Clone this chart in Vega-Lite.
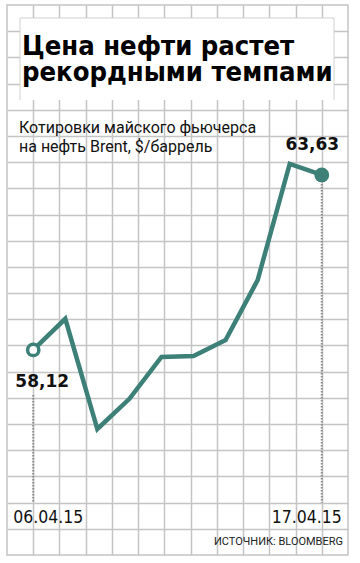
{
  "$schema": "https://vega.github.io/schema/vega-lite/v6.json",
  "width": 341,
  "height": 550,
  "autosize": {"type": "none"},
  "padding": {"left": 7, "top": 5, "right": 12, "bottom": 8},
  "background": "white",
  "config": {
    "view": {"stroke": "#c4c4c4", "strokeWidth": 1.5},
    "axis": {"labels": false, "ticks": false, "domain": false, "titleOpacity": 0, "grid": true, "gridColor": "#c4c4c4", "gridWidth": 1.5, "gridOpacity": 1},
    "locale": {"number": {"decimal": ",", "thousands": " ", "grouping": [3], "currency": ["", ""]}}
  },
  "data": {
    "values": [
      {"i": 0, "date": "06.04.15", "v": 58.12},
      {"i": 1, "date": "07.04.15", "v": 59.10},
      {"i": 2, "date": "08.04.15", "v": 55.63},
      {"i": 3, "date": "09.04.15", "v": 56.58},
      {"i": 4, "date": "10.04.15", "v": 57.90},
      {"i": 5, "date": "13.04.15", "v": 57.93},
      {"i": 6, "date": "14.04.15", "v": 58.43},
      {"i": 7, "date": "15.04.15", "v": 60.32},
      {"i": 8, "date": "16.04.15", "v": 63.98},
      {"i": 9, "date": "17.04.15", "v": 63.63}
    ]
  },
  "layer": [
    {
      "mark": {"type": "line", "color": "#3d8078", "strokeWidth": 4.5, "strokeJoin": "miter"},
      "encoding": {
        "x": {"field": "i", "type": "quantitative", "title": null,
          "scale": {"domain": [-0.81818, 9.81818], "nice": false, "zero": false},
          "axis": {"values": [0, 0.81818, 1.63636, 2.45455, 3.27273, 4.09091, 4.90909, 5.72727, 6.54545, 7.36364, 8.18182, 9]}},
        "y": {"field": "v", "type": "quantitative", "title": null,
          "scale": {"domain": [51.663, 68.98], "nice": false, "zero": false},
          "axis": {"values": [52.488, 53.312, 54.137, 54.962, 55.786, 56.611, 57.435, 58.260, 59.085, 59.909, 60.734, 61.558, 62.383, 63.208, 64.032, 64.857, 65.681, 66.506, 67.331, 68.155]}}
      }
    },
    {
      "transform": [{"filter": "datum.i == 0"}],
      "mark": {"type": "rule", "color": "#8c8c8c", "strokeWidth": 2, "strokeDash": [1.5, 1.5]},
      "encoding": {
        "x": {"field": "i", "type": "quantitative", "title": null, "axis": {"values": [0, 0.81818, 1.63636, 2.45455, 3.27273, 4.09091, 4.90909, 5.72727, 6.54545, 7.36364, 8.18182, 9]}},
        "y": {"datum": 56.70, "type": "quantitative", "title": null, "axis": {"values": [52.488, 53.312, 54.137, 54.962, 55.786, 56.611, 57.435, 58.260, 59.085, 59.909, 60.734, 61.558, 62.383, 63.208, 64.032, 64.857, 65.681, 66.506, 67.331, 68.155]}},
        "y2": {"datum": 53.31}
      }
    },
    {
      "transform": [{"filter": "datum.i == 9"}],
      "mark": {"type": "rule", "color": "#8c8c8c", "strokeWidth": 2, "strokeDash": [1.5, 1.5]},
      "encoding": {
        "x": {"field": "i", "type": "quantitative", "title": null, "axis": {"values": [0, 0.81818, 1.63636, 2.45455, 3.27273, 4.09091, 4.90909, 5.72727, 6.54545, 7.36364, 8.18182, 9]}},
        "y": {"field": "v", "type": "quantitative", "title": null, "axis": {"values": [52.488, 53.312, 54.137, 54.962, 55.786, 56.611, 57.435, 58.260, 59.085, 59.909, 60.734, 61.558, 62.383, 63.208, 64.032, 64.857, 65.681, 66.506, 67.331, 68.155]}},
        "y2": {"datum": 53.31}
      }
    },
    {
      "transform": [{"filter": "datum.i == 0"}],
      "mark": {"type": "circle", "fill": "white", "stroke": "#3d8078", "strokeWidth": 3.5, "size": 127, "opacity": 1},
      "encoding": {
        "x": {"field": "i", "type": "quantitative", "title": null, "axis": {"values": [0, 0.81818, 1.63636, 2.45455, 3.27273, 4.09091, 4.90909, 5.72727, 6.54545, 7.36364, 8.18182, 9]}},
        "y": {"field": "v", "type": "quantitative", "title": null, "axis": {"values": [52.488, 53.312, 54.137, 54.962, 55.786, 56.611, 57.435, 58.260, 59.085, 59.909, 60.734, 61.558, 62.383, 63.208, 64.032, 64.857, 65.681, 66.506, 67.331, 68.155]}}
      }
    },
    {
      "transform": [{"filter": "datum.i == 9"}],
      "mark": {"type": "circle", "color": "#3d8078", "size": 220, "opacity": 1},
      "encoding": {
        "x": {"field": "i", "type": "quantitative", "title": null, "axis": {"values": [0, 0.81818, 1.63636, 2.45455, 3.27273, 4.09091, 4.90909, 5.72727, 6.54545, 7.36364, 8.18182, 9]}},
        "y": {"field": "v", "type": "quantitative", "title": null, "axis": {"values": [52.488, 53.312, 54.137, 54.962, 55.786, 56.611, 57.435, 58.260, 59.085, 59.909, 60.734, 61.558, 62.383, 63.208, 64.032, 64.857, 65.681, 66.506, 67.331, 68.155]}}
      }
    },
    {
      "transform": [{"filter": "datum.i == 0"}],
      "mark": {"type": "text", "font": "DejaVu Sans", "fontWeight": "bold", "fontSize": 17, "color": "#111111", "align": "center", "baseline": "alphabetic", "dx": 9, "dy": 37},
      "encoding": {
        "x": {"field": "i", "type": "quantitative", "title": null, "axis": {"values": [0, 0.81818, 1.63636, 2.45455, 3.27273, 4.09091, 4.90909, 5.72727, 6.54545, 7.36364, 8.18182, 9]}},
        "y": {"field": "v", "type": "quantitative", "title": null, "axis": {"values": [52.488, 53.312, 54.137, 54.962, 55.786, 56.611, 57.435, 58.260, 59.085, 59.909, 60.734, 61.558, 62.383, 63.208, 64.032, 64.857, 65.681, 66.506, 67.331, 68.155]}},
        "text": {"field": "v", "type": "quantitative", "format": ".2f"}
      }
    },
    {
      "transform": [{"filter": "datum.i == 9"}],
      "mark": {"type": "text", "font": "DejaVu Sans", "fontWeight": "bold", "fontSize": 17, "color": "#111111", "align": "center", "baseline": "alphabetic", "dx": -9.5, "dy": -25},
      "encoding": {
        "x": {"field": "i", "type": "quantitative", "title": null, "axis": {"values": [0, 0.81818, 1.63636, 2.45455, 3.27273, 4.09091, 4.90909, 5.72727, 6.54545, 7.36364, 8.18182, 9]}},
        "y": {"field": "v", "type": "quantitative", "title": null, "axis": {"values": [52.488, 53.312, 54.137, 54.962, 55.786, 56.611, 57.435, 58.260, 59.085, 59.909, 60.734, 61.558, 62.383, 63.208, 64.032, 64.857, 65.681, 66.506, 67.331, 68.155]}},
        "text": {"field": "v", "type": "quantitative", "format": ".2f"}
      }
    },
    {
      "transform": [{"filter": "datum.i == 0"}],
      "mark": {"type": "text", "font": "DejaVu Sans Condensed, Roboto", "fontSize": 17.5, "color": "#111111", "align": "left", "baseline": "alphabetic", "dx": -20},
      "encoding": {
        "x": {"field": "i", "type": "quantitative", "title": null, "axis": {"values": [0, 0.81818, 1.63636, 2.45455, 3.27273, 4.09091, 4.90909, 5.72727, 6.54545, 7.36364, 8.18182, 9]}},
        "y": {"datum": 52.67, "type": "quantitative", "title": null, "axis": {"values": [52.488, 53.312, 54.137, 54.962, 55.786, 56.611, 57.435, 58.260, 59.085, 59.909, 60.734, 61.558, 62.383, 63.208, 64.032, 64.857, 65.681, 66.506, 67.331, 68.155]}},
        "text": {"field": "date", "type": "nominal"}
      }
    },
    {
      "transform": [{"filter": "datum.i == 9"}],
      "mark": {"type": "text", "font": "DejaVu Sans Condensed, Roboto", "fontSize": 17.5, "color": "#111111", "align": "right", "baseline": "alphabetic", "dx": 20},
      "encoding": {
        "x": {"field": "i", "type": "quantitative", "title": null, "axis": {"values": [0, 0.81818, 1.63636, 2.45455, 3.27273, 4.09091, 4.90909, 5.72727, 6.54545, 7.36364, 8.18182, 9]}},
        "y": {"datum": 52.67, "type": "quantitative", "title": null, "axis": {"values": [52.488, 53.312, 54.137, 54.962, 55.786, 56.611, 57.435, 58.260, 59.085, 59.909, 60.734, 61.558, 62.383, 63.208, 64.032, 64.857, 65.681, 66.506, 67.331, 68.155]}},
        "text": {"field": "date", "type": "nominal"}
      }
    },
    {
      "data": {"values": [{}]},
      "mark": {"type": "rect", "fill": "white", "stroke": "#d0d0d0", "strokeWidth": 1, "strokeDash": [396, 314, 82, 0]},
      "encoding": {
        "x": {"datum": -0.4127, "type": "quantitative", "title": null, "axis": {"values": [0, 0.81818, 1.63636, 2.45455, 3.27273, 4.09091, 4.90909, 5.72727, 6.54545, 7.36364, 8.18182, 9]}},
        "x2": {"datum": 9.3815},
        "y": {"datum": 68.571, "type": "quantitative", "title": null, "axis": {"values": [52.488, 53.312, 54.137, 54.962, 55.786, 56.611, 57.435, 58.260, 59.085, 59.909, 60.734, 61.558, 62.383, 63.208, 64.032, 64.857, 65.681, 66.506, 67.331, 68.155]}},
        "y2": {"datum": 65.989}
      }
    },
    {
      "data": {"values": [{}]},
      "mark": {"type": "text", "text": ["Цена нефти растет", "рекордными темпами"], "font": "DejaVu Sans Condensed, DejaVu Sans", "fontWeight": "bold", "fontSize": 27.2, "lineHeight": 26, "color": "#000000", "align": "left", "baseline": "alphabetic"},
      "encoding": {
        "x": {"datum": -0.3503, "type": "quantitative", "title": null, "axis": {"values": [0, 0.81818, 1.63636, 2.45455, 3.27273, 4.09091, 4.90909, 5.72727, 6.54545, 7.36364, 8.18182, 9]}},
        "y": {"datum": 67.406, "type": "quantitative", "title": null, "axis": {"values": [52.488, 53.312, 54.137, 54.962, 55.786, 56.611, 57.435, 58.260, 59.085, 59.909, 60.734, 61.558, 62.383, 63.208, 64.032, 64.857, 65.681, 66.506, 67.331, 68.155]}}
      }
    },
    {
      "data": {"values": [{}]},
      "mark": {"type": "text", "text": ["Котировки майского фьючерса", "на нефть Brent, $/баррель"], "font": "Roboto", "fontSize": 16, "lineHeight": 19, "color": "#111111", "align": "left", "baseline": "alphabetic"},
      "encoding": {
        "x": {"datum": -0.4439, "type": "quantitative", "title": null, "axis": {"values": [0, 0.81818, 1.63636, 2.45455, 3.27273, 4.09091, 4.90909, 5.72727, 6.54545, 7.36364, 8.18182, 9]}},
        "y": {"datum": 64.95, "type": "quantitative", "title": null, "axis": {"values": [52.488, 53.312, 54.137, 54.962, 55.786, 56.611, 57.435, 58.260, 59.085, 59.909, 60.734, 61.558, 62.383, 63.208, 64.032, 64.857, 65.681, 66.506, 67.331, 68.155]}}
      }
    },
    {
      "data": {"values": [{}]},
      "mark": {"type": "text", "text": "ИСТОЧНИК: BLOOMBERG", "font": "Roboto", "fontSize": 11, "color": "#222222", "align": "right", "baseline": "alphabetic"},
      "encoding": {
        "x": {"datum": 9.6621, "type": "quantitative", "title": null, "axis": {"values": [0, 0.81818, 1.63636, 2.45455, 3.27273, 4.09091, 4.90909, 5.72727, 6.54545, 7.36364, 8.18182, 9]}},
        "y": {"datum": 51.977, "type": "quantitative", "title": null, "axis": {"values": [52.488, 53.312, 54.137, 54.962, 55.786, 56.611, 57.435, 58.260, 59.085, 59.909, 60.734, 61.558, 62.383, 63.208, 64.032, 64.857, 65.681, 66.506, 67.331, 68.155]}}
      }
    }
  ]
}
